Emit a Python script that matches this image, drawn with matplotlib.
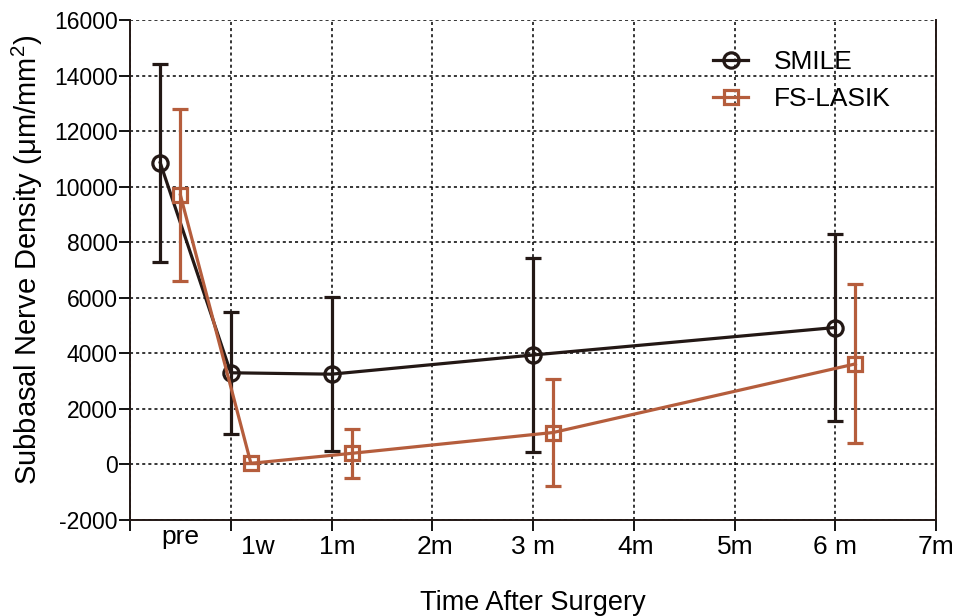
import matplotlib
matplotlib.use("Agg")
import matplotlib.pyplot as plt
from matplotlib.lines import Line2D

# time in months, pre-op shown at negative positions
smile_x = [-0.7, 0, 1, 3, 6]
smile_mean = [10860, 3300, 3250, 3940, 4930]
smile_sd = [3570, 2190, 2780, 3480, 3370]

lasik_x = [-0.5, 0.2, 1.2, 3.2, 6.2]
lasik_mean = [9700, 40, 400, 1150, 3620]
lasik_sd = [3090, 0, 870, 1920, 2860]

tick_pos = [-1, 0, 1, 2, 3, 4, 5, 6, 7]
label_pos = [-0.5, 0.27, 1.06, 2.03, 3.0, 4.02, 5.01, 6.0, 7.0]
label_txt = ["pre", "1w", "1m", "2m", "3 m", "4m", "5m", "6 m", "7m"]

c_smile = "#231815"
c_lasik = "#b55d3c"


def main():
    plt.rcParams['font.family'] = ['Liberation Sans', 'DejaVu Sans']
    plt.rcParams['axes.unicode_minus'] = False
    fig = plt.figure(figsize=(9.56, 6.16), dpi=100)
    ax = fig.add_axes([130/956, 96/616, 806/956, 500/616])

    ax.errorbar(smile_x, smile_mean, yerr=smile_sd, color=c_smile, lw=2.3,
                marker="o", ms=11, mfc="none", mew=2.3, capsize=5.5, capthick=2.3,
                elinewidth=2.3, zorder=3)
    ax.errorbar(lasik_x, lasik_mean, yerr=lasik_sd, color=c_lasik, lw=2.3,
                marker="s", ms=10, mfc="none", mew=2.3, capsize=5.5, capthick=2.3,
                elinewidth=2.3, zorder=4)

    ax.set_xlim(-1, 7)
    ax.set_ylim(-2000, 16000)
    ax.set_yticks(range(-2000, 16001, 2000))
    ax.set_xticks(tick_pos)
    ax.set_xticklabels([])
    ax.tick_params(axis="x", length=8, width=1.3, direction="out")
    ax.tick_params(axis="y", length=8, width=1.3, direction="out", labelsize=16.5, pad=1)

    # x labels sit between/next to the ticks, "pre" a bit higher
    tr = ax.get_xaxis_transform()
    for xp, t in zip(label_pos, label_txt):
        yoff = -0.034 if t == "pre" else -0.054
        ax.text(xp, yoff, t, transform=tr, ha="center", va="center", fontsize=19)

    ax.grid(True, which="major", color="black", linestyle=(0, (2, 2)), lw=1.1)
    ax.set_axisbelow(True)

    ax.spines["top"].set_visible(False)
    for s in ["left", "bottom", "right"]:
        ax.spines[s].set_linewidth(1.4)
        ax.spines[s].set_color("#231815")

    ax.set_ylabel("Subbasal Nerve Density ($\\mathregular{\\mu}$m/mm$^\\mathregular{2}$)", fontsize=21, labelpad=6)
    ax.yaxis.label.set_y(0.52)
    ax.set_xlabel("Time After Surgery", fontsize=19.5, labelpad=39)

    handles = [
        Line2D([], [], color=c_smile, lw=2.3, marker="o", ms=11, mfc="none", mew=2.3),
        Line2D([], [], color=c_lasik, lw=2.3, marker="s", ms=10, mfc="none", mew=2.3),
    ]
    ax.legend(handles, ["SMILE", "FS-LASIK"], loc="upper left",
              bbox_to_anchor=(0.723, 0.94), frameon=False, fontsize=19,
              handlelength=1.35, handletextpad=0.95, labelspacing=0.5,
              borderpad=0, borderaxespad=0)

    fig.savefig("out.png", dpi=100)


if __name__ == "__main__":
    main()
